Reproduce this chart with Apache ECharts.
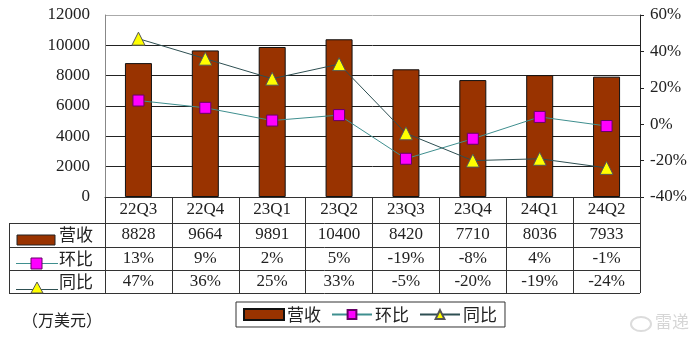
<!DOCTYPE html>
<html>
<head>
<meta charset="utf-8">
<script src="https://cdn.jsdelivr.net/npm/echarts@6/dist/echarts.min.js"></script>
<style>
html,body{margin:0;padding:0;background:#fff}
#chart{width:700px;height:340px}
</style>
</head>
<body>
<div id="chart"></div>
<script>
// Quarterly revenue (10k USD) with QoQ and YoY growth (%)
const quarters = ['22Q3', '22Q4', '23Q1', '23Q2', '23Q3', '23Q4', '24Q1', '24Q2'];
const revenue = [8828, 9664, 9891, 10400, 8420, 7710, 8036, 7933];
const qoq = [13, 9, 2, 5, -19, -8, 4, -1];
const yoy = [47, 36, 25, 33, -5, -20, -19, -24];
const seriesNames = ['营收', '环比', '同比'];
const unitLabel = '（万美元）';

const BAR = '#993300';
const PINK = '#ff00ff';
const YELLOW = '#ffff00';
const QOQ_LINE = '#3f8f8f';
const YOY_LINE = '#2e4f52';
const SERIF = '"Liberation Serif","Noto Sans CJK SC",serif';
const CJK = '"Noto Sans CJK SC",sans-serif';
const INK = '#222';

const chart = echarts.init(document.getElementById('chart'));

const pct = v => v + '%';

// one extra category axis per table row, each offset below the plot
function rowAxis(values, offset) {
  return {
    type: 'category', position: 'bottom', offset: offset, data: values,
    axisLine: { show: false }, axisTick: { show: false },
    axisLabel: { interval: 0, margin: 0, verticalAlign: 'middle',
      fontFamily: SERIF, fontSize: 17, color: INK }
  };
}

// table grid lines and row headers
const tableLeft = 9, tableRight = 640;
const rowLines = [223, 247, 270, 293];
const lineStyle = { stroke: '#333', lineWidth: 1 };
const graphics = [];
rowLines.forEach(y => graphics.push({ type: 'line', shape: { x1: tableLeft, y1: y + 0.5, x2: tableRight, y2: y + 0.5 }, style: lineStyle, silent: true }));
graphics.push({ type: 'line', shape: { x1: tableLeft + 0.5, y1: 223, x2: tableLeft + 0.5, y2: 293 }, style: lineStyle });
// revenue row header
graphics.push({ type: 'rect', shape: { x: 17, y: 235, width: 38, height: 10 }, style: { fill: BAR, stroke: '#222', lineWidth: 1 } });
// QoQ row header
graphics.push({ type: 'line', shape: { x1: 16, y1: 263.5, x2: 58, y2: 263.5 }, style: { stroke: QOQ_LINE, lineWidth: 1 } });
graphics.push({ type: 'rect', shape: { x: 31, y: 258, width: 11, height: 11 }, style: { fill: PINK, stroke: '#660066', lineWidth: 1 } });
// YoY row header
graphics.push({ type: 'line', shape: { x1: 16, y1: 289.5, x2: 58, y2: 289.5 }, style: { stroke: YOY_LINE, lineWidth: 1 } });
graphics.push({ type: 'polygon', shape: { points: [[37, 282], [31, 293], [43, 293]] }, style: { fill: YELLOW, stroke: '#555', lineWidth: 1 } });
[[seriesNames[0], 235], [seriesNames[1], 258.5], [seriesNames[2], 281.5]].forEach(([t, y]) => {
  graphics.push({ type: 'text', x: 59, y: y, style: { text: t, font: '17px ' + CJK, fill: INK, verticalAlign: 'middle', textAlign: 'left' } });
});
// unit note
graphics.push({ type: 'text', x: 22, y: 320, style: { text: unitLabel, font: '16px ' + CJK, fill: INK, verticalAlign: 'middle' } });
// faint watermark
graphics.push({ type: 'ellipse', shape: { cx: 641, cy: 324, rx: 10, ry: 7 }, style: { fill: 'none', stroke: '#dcdcdc', lineWidth: 2 } });
graphics.push({ type: 'text', x: 655, y: 322, style: { text: '雷递', font: '17px ' + CJK, fill: '#d6d6d6', verticalAlign: 'middle' } });

chart.setOption({
  animation: false,
  backgroundColor: '#fff',
  grid: { left: 105, right: 60, top: 15, bottom: 143, containLabel: false },
  legend: {
    data: [
      { name: seriesNames[0], icon: 'rect' },
      { name: seriesNames[1] },
      { name: seriesNames[2] }
    ],
    left: 236, top: 302,
    padding: [4, 8, 4, 7],
    itemGap: 10, itemWidth: 40, itemHeight: 11,
    borderColor: '#333', borderWidth: 1,
    textStyle: { fontFamily: CJK, fontSize: 17, color: INK, padding: [0, 0, 0, -2] }
  },
  xAxis: [
    {
      type: 'category', data: quarters, position: 'bottom',
      axisLine: { lineStyle: { color: '#333', width: 1 } },
      axisTick: { show: true, interval: 0, length: 96, lineStyle: { color: '#333', width: 1 } },
      axisLabel: { interval: 0, margin: 13, verticalAlign: 'middle',
        fontFamily: SERIF, fontSize: 17, color: INK }
    },
    rowAxis(revenue.map(String), 38),
    rowAxis(qoq.map(pct), 61.5),
    rowAxis(yoy.map(pct), 84.5)
  ],
  yAxis: [
    {
      type: 'value', min: 0, max: 12000, interval: 2000, position: 'left',
      axisLine: { show: true, lineStyle: { color: '#888' } },
      axisTick: { show: false },
      axisLabel: { margin: 15, formatter: v => String(v), fontFamily: SERIF, fontSize: 17, color: INK },
      splitLine: { show: true, lineStyle: { color: ['#222', '#222', '#222', '#222', '#222', '#222', '#aaa'], width: 1 } }
    },
    {
      type: 'value', min: -40, max: 60, interval: 20, position: 'right',
      axisLine: { show: true, lineStyle: { color: '#222' } },
      axisTick: { show: true, inside: false, length: 4, lineStyle: { color: '#222' } },
      axisLabel: { margin: 10, formatter: '{value}%', fontFamily: SERIF, fontSize: 17, color: INK },
      splitLine: { show: false }
    }
  ],
  series: [
    {
      name: seriesNames[0], type: 'bar', data: revenue, barWidth: 27,
      itemStyle: { color: BAR, borderColor: '#111', borderWidth: 1 }
    },
    {
      name: seriesNames[1], type: 'line', yAxisIndex: 1, data: qoq,
      symbol: 'rect', symbolSize: 11,
      lineStyle: { color: QOQ_LINE, width: 1 },
      itemStyle: { color: PINK, borderColor: '#660066', borderWidth: 1 }
    },
    {
      name: seriesNames[2], type: 'line', yAxisIndex: 1, data: yoy,
      symbol: 'triangle', symbolSize: 13,
      lineStyle: { color: YOY_LINE, width: 1 },
      itemStyle: { color: YELLOW, borderColor: '#555', borderWidth: 1 }
    }
  ],
  graphic: graphics
});
</script>
</body>
</html>
